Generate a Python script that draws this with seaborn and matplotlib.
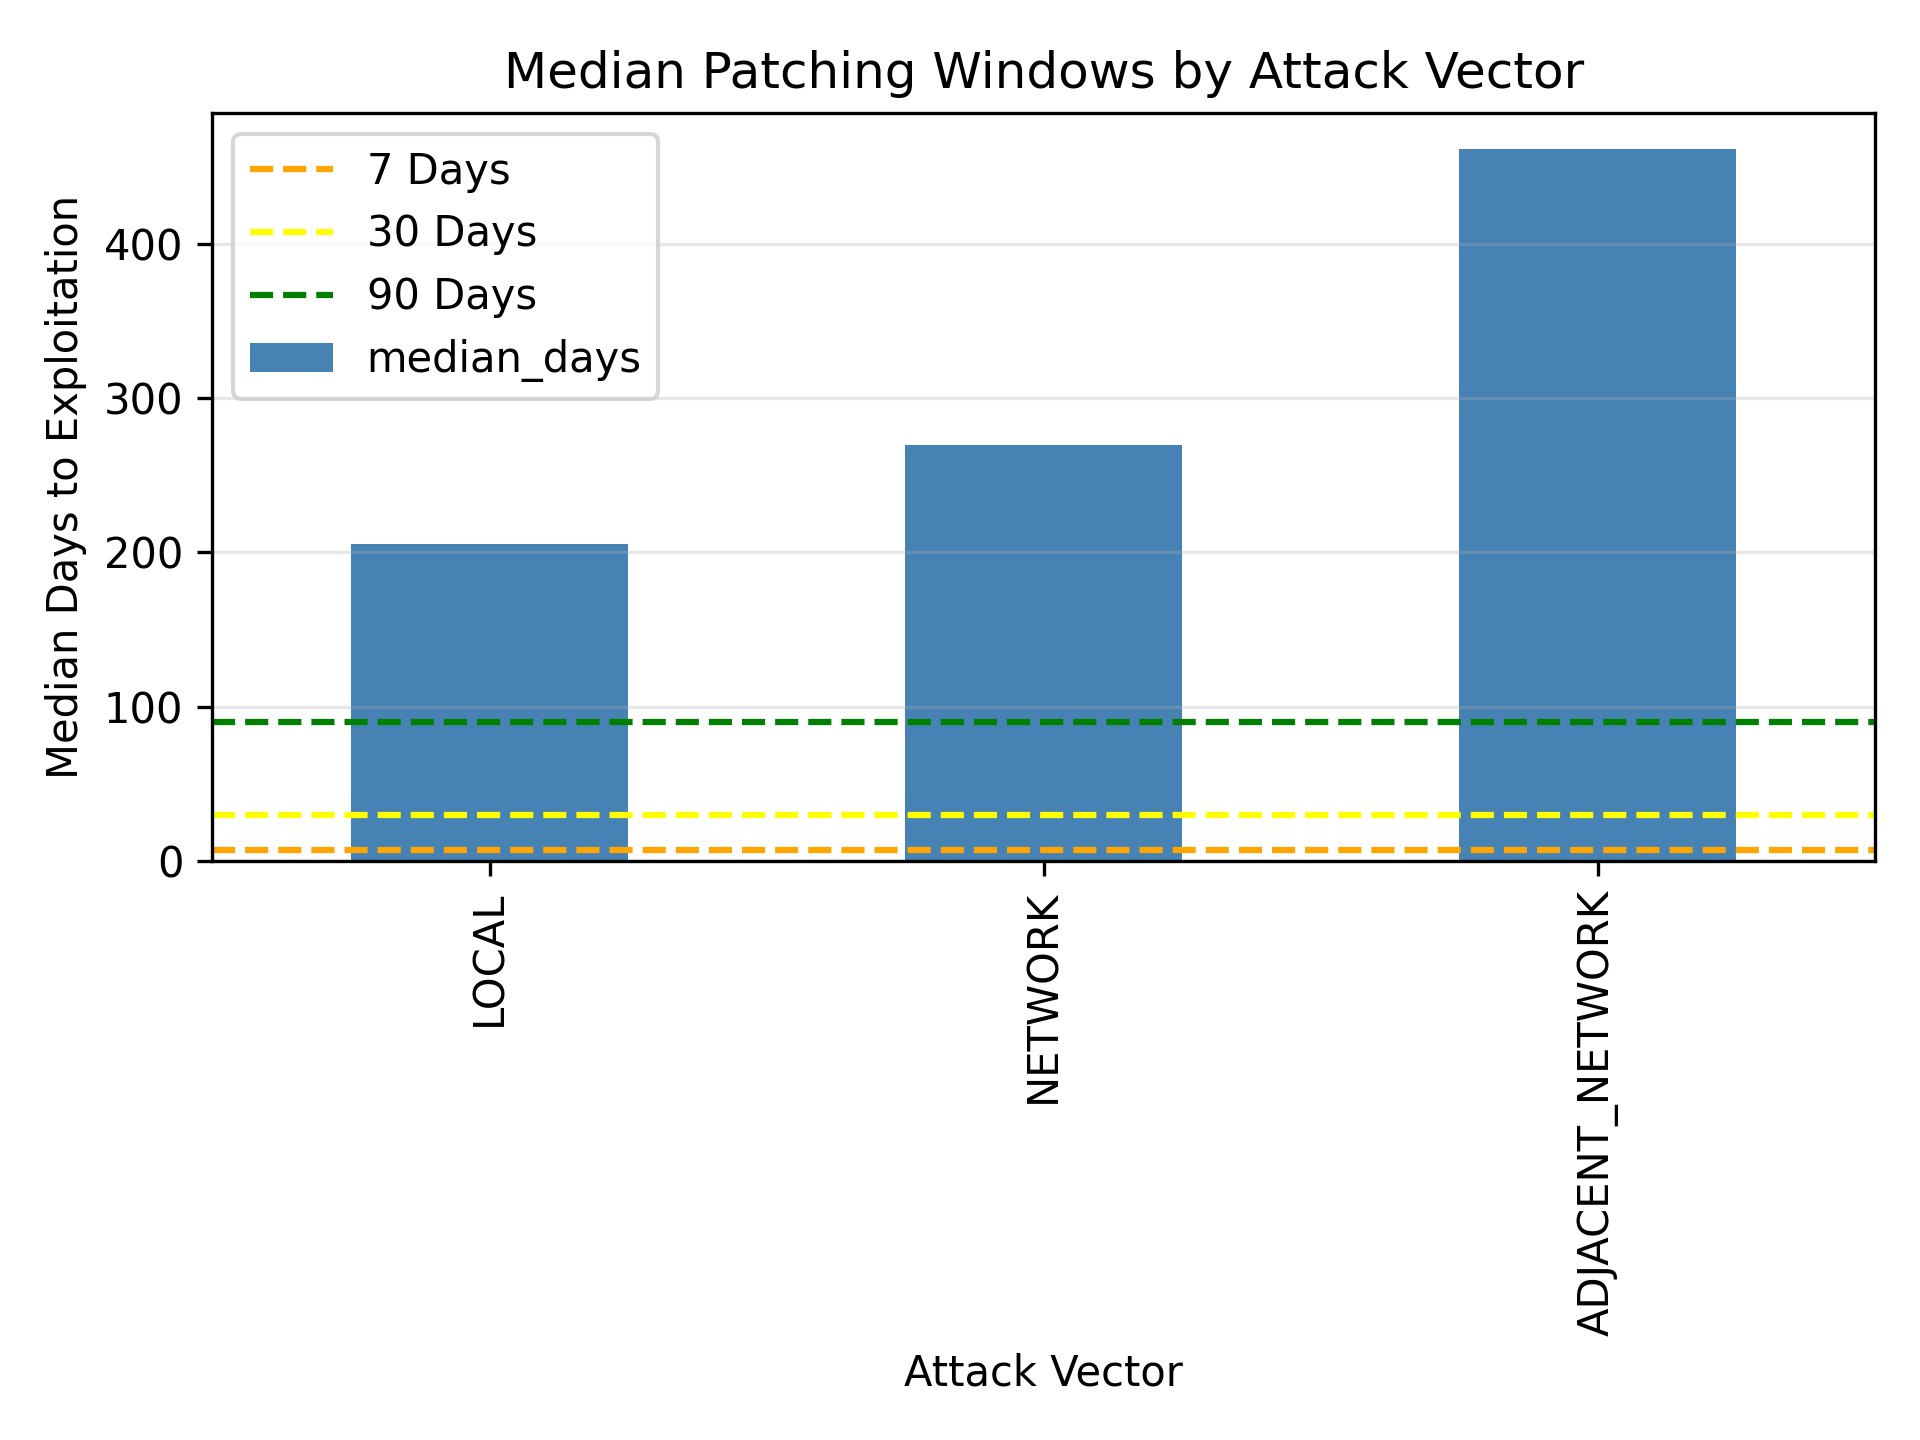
import pandas as pd
import matplotlib
matplotlib.use('Agg')
import matplotlib.pyplot as plt
import seaborn as sns

# median days from publication to exploitation per attack vector
attack_vectors = ['LOCAL', 'NETWORK', 'ADJACENT_NETWORK']
median_days = [205.6, 269.6, 461.7]

# patching window thresholds
windows = [7, 30, 90]
window_labels = ['7 Days', '30 Days', '90 Days']
window_colors = ['orange', 'yellow', 'green']


def main():
    df = pd.DataFrame({'attack_vector': attack_vectors, 'median_days': median_days})
    fig, ax = plt.subplots(figsize=(6.4, 4.8), dpi=300)
    sns.barplot(x='attack_vector', y='median_days', data=df, color='steelblue',
                saturation=1, width=0.5, label='median_days', ax=ax)
    for w, lab, c in zip(windows, window_labels, window_colors):
        ax.axhline(w, color=c, linestyle='--', label=lab)
    ax.grid(axis='y', alpha=0.3)
    plt.xticks(rotation=90)
    plt.title('Median Patching Windows by Attack Vector')
    plt.xlabel('Attack Vector')
    plt.ylabel('Median Days to Exploitation')
    handles, labels = ax.get_legend_handles_labels()
    order = [labels.index(l) for l in window_labels + ['median_days']]
    ax.legend([handles[i] for i in order], [labels[i] for i in order], loc='upper left')
    plt.tight_layout()
    # nudge top down a touch to match the original spacing
    fig.subplots_adjust(top=fig.subplotpars.top - 0.0035)
    plt.savefig('out.png')


if __name__ == '__main__':
    main()
